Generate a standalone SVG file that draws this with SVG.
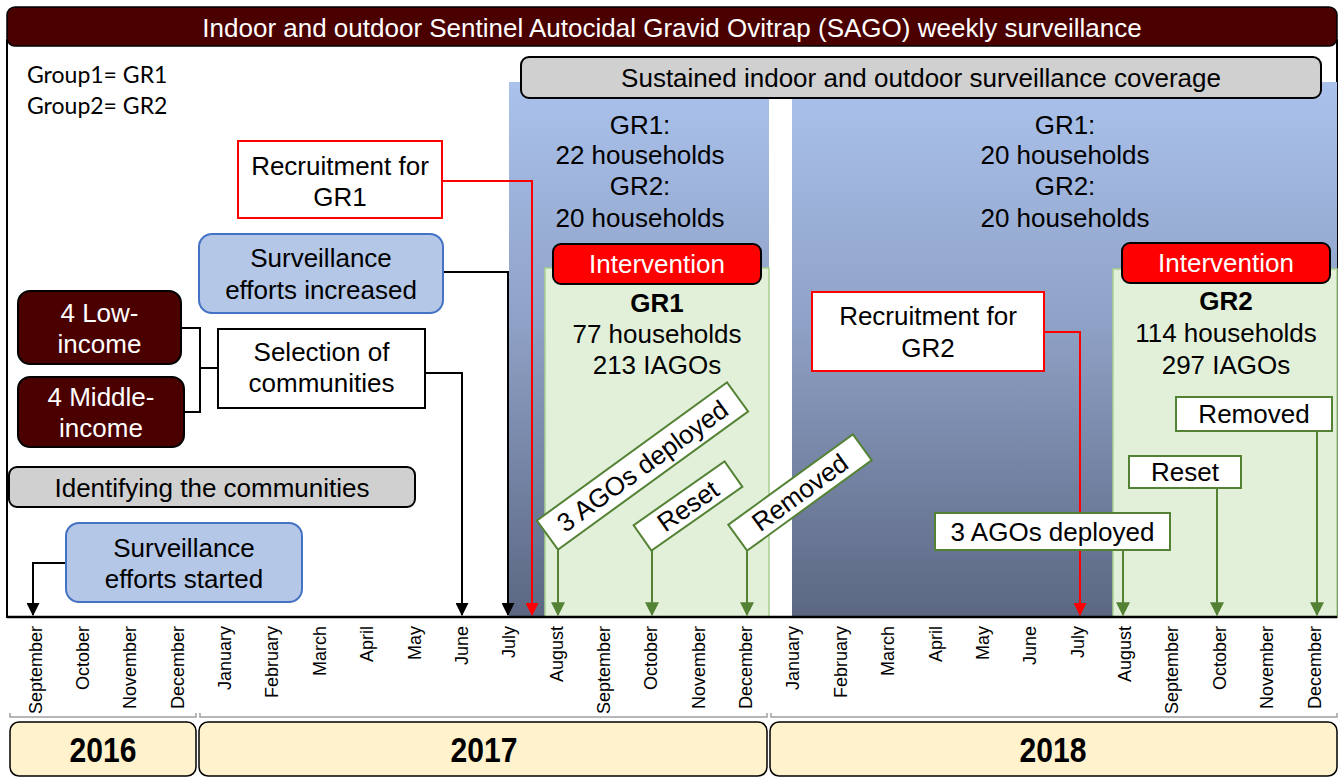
<svg xmlns="http://www.w3.org/2000/svg" width="1341" height="778" viewBox="0 0 1341 778">
<defs>
<linearGradient id="bluegrad" x1="0" y1="0" x2="0" y2="1">
<stop offset="0" stop-color="#aac2ec"/>
<stop offset="0.45" stop-color="#8fa1c6"/>
<stop offset="1" stop-color="#5b6782"/>
</linearGradient>
<marker id="ab" viewBox="0 0 12 12" refX="6" refY="11" markerWidth="13" markerHeight="13" markerUnits="userSpaceOnUse"><path d="M0,0 L12,0 L6,12 z" fill="#000"/></marker>
<marker id="ar" viewBox="0 0 12 12" refX="6" refY="11" markerWidth="13" markerHeight="13" markerUnits="userSpaceOnUse"><path d="M0,0 L12,0 L6,12 z" fill="#ff0000"/></marker>
<marker id="ag" viewBox="0 0 12 12" refX="6" refY="11" markerWidth="14" markerHeight="14" markerUnits="userSpaceOnUse"><path d="M0,0 L12,0 L6,12 z" fill="#548235"/></marker>
</defs>
<style>
text{font-family:"Liberation Sans",Arial,sans-serif;fill:#000}
.t{font-size:26px;text-anchor:middle}
.w{fill:#fff}
.b{font-weight:bold}
.mo{font-size:18px;text-anchor:end}
.yr{font-size:35px;font-weight:bold;text-anchor:middle}
.grp{font-family:Lato,"Open Sans",sans-serif;font-size:23px}
.blue{fill:#b4c7e7;stroke:#4472c4;stroke-width:2}
.gray{fill:#d0d0d0;stroke:#000;stroke-width:2}
.maroon{fill:#4b0000;stroke:#000;stroke-width:2}
.redbox{fill:#fff;stroke:#ff0000;stroke-width:2}
.interv{fill:#ff0000;stroke:#000;stroke-width:2}
.gbox{fill:#fff;stroke:#548235;stroke-width:2}
.garea{fill:#e2f0d9;stroke:#a9d18e;stroke-width:1.5}
.year{fill:#fff2cc;stroke:#000;stroke-width:1.5}
.cb{fill:none;stroke:#000;stroke-width:2}
.cr{fill:none;stroke:#ff0000;stroke-width:2}
.cg{fill:none;stroke:#548235;stroke-width:2}
.br{fill:none;stroke:#a0a0a0;stroke-width:1.5}
</style>

<g id="frame">
<rect x="7" y="40" width="1330" height="577" fill="#fff" stroke="#000" stroke-width="2"/>
</g>

<g id="panels">
<rect x="509" y="82" width="260" height="535" fill="url(#bluegrad)"/>
<rect x="792" y="82" width="545" height="535" fill="url(#bluegrad)"/>
<rect class="garea" x="545" y="268" width="224" height="349"/>
<rect class="garea" x="1113" y="269" width="224" height="348"/>
</g>

<g id="title">
<rect x="7" y="7" width="1330" height="39" rx="8" fill="#4b0000" stroke="#000" stroke-width="1.5"/>
<text x="672" y="37" class="t w">Indoor and outdoor Sentinel Autocidal Gravid Ovitrap (SAGO) weekly surveillance</text>
</g>

<g id="legend">
<text x="27" y="83" class="grp">Group1= GR1</text>
<text x="27" y="114" class="grp">Group2= GR2</text>
</g>

<g id="sustained">
<rect class="gray" x="521" y="57" width="800" height="41" rx="8"/>
<text x="921" y="87" class="t">Sustained indoor and outdoor surveillance coverage</text>
</g>

<g id="panel1-text">
<text x="640" y="134" class="t">GR1:</text>
<text x="640" y="164" class="t">22 households</text>
<text x="640" y="195" class="t">GR2:</text>
<text x="640" y="227" class="t">20 households</text>
</g>
<g id="panel2-text">
<text x="1065" y="134" class="t">GR1:</text>
<text x="1065" y="164" class="t">20 households</text>
<text x="1065" y="195" class="t">GR2:</text>
<text x="1065" y="227" class="t">20 households</text>
</g>

<g id="connectors">
<path class="cb" d="M66,563 H33 V615" marker-end="url(#ab)"/>
<path class="cb" d="M425,373 H462 V615" marker-end="url(#ab)"/>
<path class="cb" d="M443,272 H508 V615" marker-end="url(#ab)"/>
<path class="cr" d="M442,181 H532 V615" marker-end="url(#ar)"/>
<path class="cr" d="M1044,332 H1080 V615" marker-end="url(#ar)"/>
<path class="cb" d="M181,328 H200 V412 H184 M200,368 H218"/>
<path class="cg" d="M558,550 V615" marker-end="url(#ag)"/>
<path class="cg" d="M652,550 V615" marker-end="url(#ag)"/>
<path class="cg" d="M747,550 V615" marker-end="url(#ag)"/>
<path class="cg" d="M1123,550 V615" marker-end="url(#ag)"/>
<path class="cg" d="M1217,488 V615" marker-end="url(#ag)"/>
<path class="cg" d="M1317,431 V615" marker-end="url(#ag)"/>
</g>

<g id="recruit1">
<rect class="redbox" x="238" y="141" width="204" height="77"/>
<text x="340" y="175" class="t">Recruitment for</text>
<text x="340" y="206" class="t">GR1</text>
</g>
<g id="surv-increased">
<rect class="blue" x="199" y="234" width="244" height="79" rx="13"/>
<text x="321" y="267" class="t">Surveillance</text>
<text x="321" y="299" class="t">efforts increased</text>
</g>
<g id="low-income">
<rect class="maroon" x="18" y="291" width="163" height="73" rx="12"/>
<text x="99.5" y="322" class="t w">4 Low-</text>
<text x="99.5" y="353" class="t w">income</text>
</g>
<g id="middle-income">
<rect class="maroon" x="18" y="377" width="166" height="70" rx="12"/>
<text x="101" y="406" class="t w">4 Middle-</text>
<text x="101" y="437" class="t w">income</text>
</g>
<g id="selection">
<rect x="218" y="329" width="207" height="79" fill="#fff" stroke="#000" stroke-width="2"/>
<text x="321.5" y="361" class="t">Selection of</text>
<text x="321.5" y="392" class="t">communities</text>
</g>
<g id="identifying">
<rect class="gray" x="9" y="467" width="406" height="40" rx="8"/>
<text x="212" y="497" class="t">Identifying the communities</text>
</g>
<g id="surv-started">
<rect class="blue" x="66" y="523" width="236" height="79" rx="13"/>
<text x="184" y="557" class="t">Surveillance</text>
<text x="184" y="588" class="t">efforts started</text>
</g>

<g id="intervention1">
<rect class="interv" x="553" y="244" width="208" height="40" rx="8"/>
<text x="657" y="273" class="t w">Intervention</text>
<text x="657" y="312" class="t b">GR1</text>
<text x="657" y="343" class="t">77 households</text>
<text x="657" y="374" class="t">213 IAGOs</text>
</g>
<g id="deployed1" transform="translate(642.5,466) rotate(-36)">
<rect class="gbox" x="-117.5" y="-18" width="235" height="36"/>
<text x="0" y="9" class="t">3 AGOs deployed</text>
</g>
<g id="reset1" transform="translate(688,506) rotate(-35)">
<rect class="gbox" x="-55.5" y="-15.5" width="111" height="31"/>
<text x="0" y="9" class="t">Reset</text>
</g>
<g id="removed1" transform="translate(800,492.5) rotate(-36)">
<rect class="gbox" x="-77" y="-16" width="154" height="32"/>
<text x="0" y="9" class="t">Removed</text>
</g>

<g id="recruit2">
<rect class="redbox" x="812" y="292" width="232" height="79"/>
<text x="928" y="325" class="t">Recruitment for</text>
<text x="928" y="357" class="t">GR2</text>
</g>
<g id="intervention2">
<rect class="interv" x="1122" y="243" width="208" height="40" rx="8"/>
<text x="1226" y="272" class="t w">Intervention</text>
<text x="1226" y="310" class="t b">GR2</text>
<text x="1226" y="342" class="t">114 households</text>
<text x="1226" y="374" class="t">297 IAGOs</text>
</g>
<g id="removed2">
<rect class="gbox" x="1176" y="397" width="156" height="34"/>
<text x="1254" y="423" class="t">Removed</text>
</g>
<g id="reset2">
<rect class="gbox" x="1129" y="456" width="112" height="32"/>
<text x="1185" y="481" class="t">Reset</text>
</g>
<g id="deployed2">
<rect class="gbox" x="935" y="513" width="235" height="37"/>
<text x="1052.5" y="541" class="t">3 AGOs deployed</text>
</g>

<g id="axis">
<line x1="7" y1="617" x2="1337" y2="617" stroke="#000" stroke-width="2.5"/>
</g>

<g id="months">
<text class="mo" transform="translate(41.5,626) rotate(-90)">September</text>
<text class="mo" transform="translate(88.9,626) rotate(-90)">October</text>
<text class="mo" transform="translate(136.2,626) rotate(-90)">November</text>
<text class="mo" transform="translate(183.6,626) rotate(-90)">December</text>
<text class="mo" transform="translate(231,626) rotate(-90)">January</text>
<text class="mo" transform="translate(278.4,626) rotate(-90)">February</text>
<text class="mo" transform="translate(325.7,626) rotate(-90)">March</text>
<text class="mo" transform="translate(373.1,626) rotate(-90)">April</text>
<text class="mo" transform="translate(420.5,626) rotate(-90)">May</text>
<text class="mo" transform="translate(467.8,626) rotate(-90)">June</text>
<text class="mo" transform="translate(515.2,626) rotate(-90)">July</text>
<text class="mo" transform="translate(562.6,626) rotate(-90)">August</text>
<text class="mo" transform="translate(609.9,626) rotate(-90)">September</text>
<text class="mo" transform="translate(657.3,626) rotate(-90)">October</text>
<text class="mo" transform="translate(704.7,626) rotate(-90)">November</text>
<text class="mo" transform="translate(752.1,626) rotate(-90)">December</text>
<text class="mo" transform="translate(799.4,626) rotate(-90)">January</text>
<text class="mo" transform="translate(846.8,626) rotate(-90)">February</text>
<text class="mo" transform="translate(894.2,626) rotate(-90)">March</text>
<text class="mo" transform="translate(941.5,626) rotate(-90)">April</text>
<text class="mo" transform="translate(988.9,626) rotate(-90)">May</text>
<text class="mo" transform="translate(1036.3,626) rotate(-90)">June</text>
<text class="mo" transform="translate(1083.6,626) rotate(-90)">July</text>
<text class="mo" transform="translate(1131,626) rotate(-90)">August</text>
<text class="mo" transform="translate(1178.4,626) rotate(-90)">September</text>
<text class="mo" transform="translate(1225.8,626) rotate(-90)">October</text>
<text class="mo" transform="translate(1273.1,626) rotate(-90)">November</text>
<text class="mo" transform="translate(1320.5,626) rotate(-90)">December</text>
</g>

<g id="years">
<path class="br" d="M10,713 V717 H196 V713"/>
<path class="br" d="M200,713 V717 H767 V713"/>
<path class="br" d="M771,713 V717 H1337 V713"/>
<rect class="year" x="10" y="722" width="186" height="54" rx="9"/>
<rect class="year" x="199" y="722" width="568" height="54" rx="9"/>
<rect class="year" x="770" y="722" width="567" height="54" rx="9"/>
<text class="yr" transform="translate(103,762) scale(0.86,1)">2016</text>
<text class="yr" transform="translate(484,762) scale(0.86,1)">2017</text>
<text class="yr" transform="translate(1053,762) scale(0.86,1)">2018</text>
</g>
</svg>
